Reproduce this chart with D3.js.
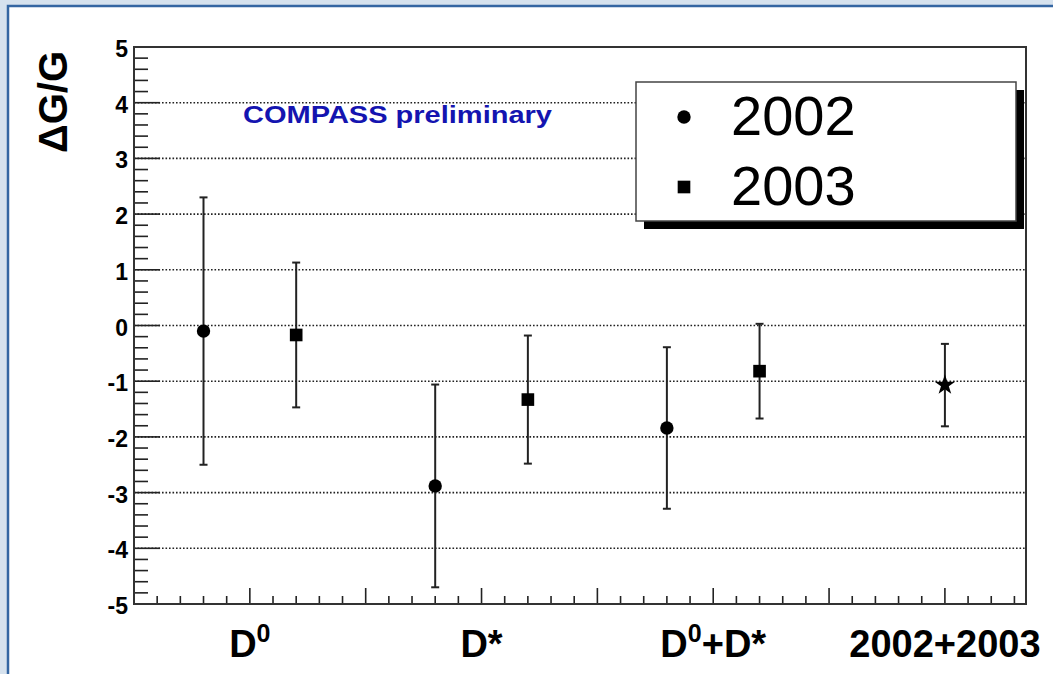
<!DOCTYPE html>
<meta charset="utf-8">
<script src="https://d3js.org/d3.v7.min.js"></script>
<style>
  body { margin: 0; background: #d6e2ee; }
  text { font-family: "Liberation Sans", Arial, Helvetica, sans-serif; }
</style>
<body>
<div id="chart"></div>
<script>
// categories on the x axis and where they sit
var categories = ["D0", "D*", "D0+D*", "2002+2003"];
var catPos = [1, 3, 5, 7];

// 2002 data (circles)
var x2002 = [0.6, 2.6, 4.6];
var y2002 = [-0.1, -2.88, -1.84];
var e2002 = [2.4, 1.82, 1.45];

// 2003 data (squares)
var x2003 = [1.4, 3.4, 5.4];
var y2003 = [-0.17, -1.33, -0.82];
var e2003 = [1.3, 1.15, 0.85];

// combined 2002+2003 (star)
var xComb = [7];
var yComb = [-1.07];
var eComb = [0.74];

var yTicks = [-5, -4, -3, -2, -1, 0, 1, 2, 3, 4, 5];
var legendYears = ["2002", "2003"];

var W = 1053, H = 674;
var svg = d3.select("#chart").append("svg")
  .attr("width", W).attr("height", H);

// page panel
svg.append("rect").attr("width", W).attr("height", H).attr("fill", "#d6e2ee");
svg.append("rect").attr("x", 8).attr("y", 6).attr("width", W + 10).attr("height", H + 10)
  .attr("fill", "#fff").attr("stroke", "#3466a2").attr("stroke-width", 2.5);

var x = d3.scaleLinear().domain([0, 7.7]).range([134, 1026]);
var y = d3.scaleLinear().domain([-5, 5]).range([604, 47]);

// grid lines
svg.append("g").selectAll("line")
  .data(yTicks.filter(function(d) { return d > -5 && d < 5; }))
  .enter().append("line")
  .attr("x1", x(0)).attr("x2", x(7.7))
  .attr("y1", function(d) { return y(d); }).attr("y2", function(d) { return y(d); })
  .attr("stroke", "#222").attr("stroke-width", 1.6).attr("stroke-dasharray", "1.6,1.9");

// y axis ticks (major + minor)
var yMinor = d3.range(-50, 51, 2).map(function(d) { return d / 10; });
svg.append("g").selectAll("line").data(yMinor).enter().append("line")
  .attr("x1", x(0))
  .attr("x2", function(d) { return Math.abs(d - Math.round(d)) < 1e-6 ? x(0) + 26 : x(0) + 14; })
  .attr("y1", function(d) { return y(d); }).attr("y2", function(d) { return y(d); })
  .attr("stroke", "#222").attr("stroke-width", 1.6);

svg.append("g").selectAll("text").data(yTicks).enter().append("text")
  .attr("x", 128).attr("y", function(d) { return y(d) + 10; })
  .attr("text-anchor", "end").attr("font-size", 23).attr("font-weight", "bold")
  .text(function(d) { return d; });

// x axis ticks
var xMinor = d3.range(1, 39).map(function(d) { return d / 5; });
svg.append("g").selectAll("line").data(xMinor).enter().append("line")
  .attr("x1", function(d) { return x(d); }).attr("x2", function(d) { return x(d); })
  .attr("y1", y(-5))
  .attr("y2", function(d) { return Math.abs(d - Math.round(d)) < 1e-6 ? y(-5) - 16 : y(-5) - 8; })
  .attr("stroke", "#222").attr("stroke-width", 1.6);

// frame
svg.append("rect").attr("x", x(0)).attr("y", y(5))
  .attr("width", x(7.7) - x(0)).attr("height", y(-5) - y(5))
  .attr("fill", "none").attr("stroke", "#333").attr("stroke-width", 2);

// category labels (a "D0" piece gets a raised 0)
var labels = svg.append("g").selectAll("text").data(categories).enter().append("text")
  .attr("x", function(d, i) { return x(catPos[i]); })
  .attr("y", 657)
  .attr("text-anchor", "middle").attr("font-size", 38).attr("font-weight", "bold");
labels.each(function(d) {
  var t = d3.select(this);
  var parts = d.split(/(D0)/).filter(function(p) { return p.length; });
  var raised = false;
  parts.forEach(function(p) {
    if (p === "D0") {
      t.append("tspan").attr("dy", raised ? 15 : 0).text("D");
      t.append("tspan").attr("font-size", 25).attr("dy", -15).text("0");
      raised = true;
    } else {
      t.append("tspan").attr("dy", raised ? 15 : 0).text(p);
      raised = false;
    }
  });
});

// y title
svg.append("text")
  .attr("transform", "translate(67,102) rotate(-90)")
  .attr("text-anchor", "middle").attr("font-size", 40).attr("font-weight", "bold")
  .text("ΔG/G");

// preliminary tag
svg.append("text").attr("x", 243).attr("y", 123)
  .attr("font-size", 24).attr("font-weight", "bold").attr("fill", "#1414b0")
  .attr("textLength", 309).attr("lengthAdjust", "spacingAndGlyphs")
  .text("COMPASS preliminary");

// error bars + markers
function drawSeries(xs, ys, es, symbol, size) {
  var g = svg.append("g");
  var data = xs.map(function(v, i) { return { x: v, y: ys[i], e: es[i] }; });
  var bars = g.selectAll("g").data(data).enter().append("g");
  bars.append("line")
    .attr("x1", function(d) { return x(d.x); }).attr("x2", function(d) { return x(d.x); })
    .attr("y1", function(d) { return y(d.y + d.e); }).attr("y2", function(d) { return y(d.y - d.e); })
    .attr("stroke", "#222").attr("stroke-width", 2);
  [1, -1].forEach(function(s) {
    bars.append("line")
      .attr("x1", function(d) { return x(d.x) - 4; }).attr("x2", function(d) { return x(d.x) + 4; })
      .attr("y1", function(d) { return y(d.y + s * d.e); }).attr("y2", function(d) { return y(d.y + s * d.e); })
      .attr("stroke", "#222").attr("stroke-width", 2);
  });
  bars.append("path")
    .attr("transform", function(d) { return "translate(" + x(d.x) + "," + y(d.y) + ")"; })
    .attr("d", d3.symbol().type(symbol).size(size))
    .attr("fill", "#000");
}
drawSeries(x2002, y2002, e2002, d3.symbolCircle, 140);
drawSeries(x2003, y2003, e2003, d3.symbolSquare, 160);
drawSeries(xComb, yComb, eComb, d3.symbolStar, 130);

// legend
var lg = svg.append("g");
lg.append("rect").attr("x", 644).attr("y", 90).attr("width", 380).attr("height", 139).attr("fill", "#000");
lg.append("rect").attr("x", 636).attr("y", 82).attr("width", 380).attr("height", 139)
  .attr("fill", "#fff").attr("stroke", "#444").attr("stroke-width", 1.5);
var legendSym = [d3.symbolCircle, d3.symbolSquare];
var legendSize = [140, 160];
legendYears.forEach(function(yr, i) {
  var cy = 117 + i * 70;
  lg.append("path").attr("transform", "translate(684," + cy + ")")
    .attr("d", d3.symbol().type(legendSym[i]).size(legendSize[i])).attr("fill", "#000");
  lg.append("text").attr("x", 731).attr("y", cy + 18)
    .attr("font-size", 56).text(yr);
});
</script>
</body>
